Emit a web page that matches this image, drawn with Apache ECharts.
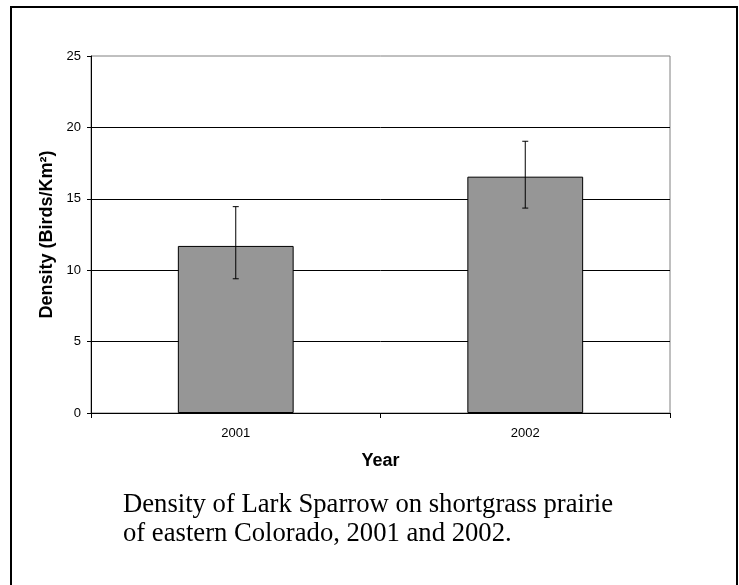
<!DOCTYPE html>
<html>
<head>
<meta charset="utf-8">
<script src="https://cdn.jsdelivr.net/npm/echarts@6/dist/echarts.min.js"></script>
<style>
html,body{margin:0;padding:0;background:#fff;}
#chart{width:739px;height:585px;}
</style>
</head>
<body>
<div id="chart"></div>
<script>
var categories = ['2001', '2002'];
var density = [11.7, 16.55];
var errLow = [9.4, 14.35];
var errHigh = [14.45, 19.03];
var captionLines = ['Density of Lark Sparrow on shortgrass prairie', 'of eastern Colorado, 2001 and 2002.'];

var chart = echarts.init(document.getElementById('chart'), null, {renderer: 'canvas'});

var errData = categories.map(function (c, i) { return [i, errLow[i], errHigh[i]]; });

var option = {
  backgroundColor: '#fff',
  animation: false,
  grid: {
    left: 91, right: 69, top: 56, bottom: 172,
    show: true, borderColor: '#808080', borderWidth: 1, backgroundColor: 'transparent'
  },
  xAxis: {
    type: 'category',
    data: categories,
    boundaryGap: true,
    axisLine: {show: true, lineStyle: {color: '#000', width: 1}},
    axisTick: {show: true, length: 5, inside: false, alignWithLabel: false, lineStyle: {color: '#000'}},
    axisLabel: {color: '#000', fontSize: 13, fontFamily: 'Liberation Sans, Arial, sans-serif', margin: 14},
    splitLine: {show: false},
    name: 'Year',
    nameLocation: 'middle',
    nameGap: 39,
    nameTextStyle: {color: '#000', fontSize: 18, fontWeight: 'bold', fontFamily: 'Liberation Sans, Arial, sans-serif'}
  },
  yAxis: {
    type: 'value',
    min: 0, max: 25, interval: 5,
    axisLine: {show: true, lineStyle: {color: '#000', width: 1}},
    axisTick: {show: true, length: 4, inside: false, lineStyle: {color: '#000'}},
    axisLabel: {color: '#000', fontSize: 13, fontFamily: 'Liberation Sans, Arial, sans-serif', margin: 10},
    splitLine: {show: true, showMaxLine: false, lineStyle: {color: '#000', width: 1}},
    name: 'Density (Birds/Km²)',
    nameLocation: 'middle',
    nameGap: 34,
    nameTextStyle: {color: '#000', fontSize: 18, fontWeight: 'bold', fontFamily: 'Liberation Sans, Arial, sans-serif'}
  },
  series: [
    {
      type: 'bar',
      data: density,
      barWidth: '40%',
      itemStyle: {color: '#969696', borderColor: '#000', borderWidth: 1},
      z: 2
    },
    {
      type: 'custom',
      data: errData,
      encode: {x: 0, y: [1, 2]},
      z: 3,
      renderItem: function (params, api) {
        var x = api.value(0);
        var lo = api.coord([x, api.value(1)]);
        var hi = api.coord([x, api.value(2)]);
        var cap = 3;
        var st = {stroke: '#000', lineWidth: 1};
        return {
          type: 'group',
          children: [
            {type: 'line', shape: {x1: lo[0], y1: lo[1], x2: hi[0], y2: hi[1]}, style: st},
            {type: 'line', shape: {x1: hi[0] - cap, y1: hi[1], x2: hi[0] + cap, y2: hi[1]}, style: st},
            {type: 'line', shape: {x1: lo[0] - cap, y1: lo[1], x2: lo[0] + cap, y2: lo[1]}, style: st}
          ]
        };
      }
    }
  ],
  graphic: [
    {
      type: 'rect',
      shape: {x: 11, y: 7, width: 726, height: 640},
      style: {fill: 'none', stroke: '#000', lineWidth: 2},
      silent: true
    },
    {
      type: 'text',
      left: 123, top: 490,
      style: {
        text: captionLines.join('\n'),
        fill: '#000',
        fontSize: 26.67,
        lineHeight: 29,
        fontFamily: 'Liberation Serif, Times New Roman, serif'
      }
    }
  ]
};
chart.setOption(option);
</script>
</body>
</html>
